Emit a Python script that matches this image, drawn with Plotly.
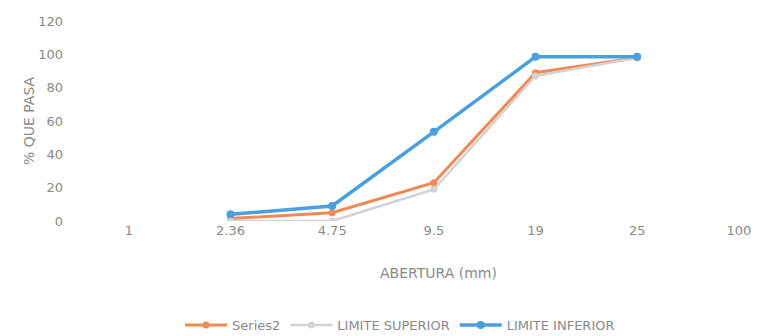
import plotly.graph_objects as go

categories = ["1", "2.36", "4.75", "9.5", "19", "25", "100"]
series2 = [None, 1.5, 5, 23, 89, 98, None]
limite_superior = [None, 0, 0, 19, 87, 98, None]
limite_inferior = [None, 4, 9, 53.5, 98.5, 98.5, None]
y_ticks = [0, 20, 40, 60, 80, 100, 120]

font_family = "DejaVu Sans, sans-serif"
txt = "#8a8a8a"

fig = go.Figure()
fig.add_trace(go.Scatter(x=categories, y=series2, name="Series2", mode="lines+markers",
                         line=dict(color="#EF8A55", width=3), marker=dict(size=7, color="#EF8A55")))
fig.add_trace(go.Scatter(x=categories, y=limite_superior, name="LIMITE SUPERIOR", mode="lines+markers",
                         line=dict(color="#D3D3D3", width=2.5), marker=dict(size=7, color="#D3D3D3")))
fig.add_trace(go.Scatter(x=categories, y=limite_inferior, name="LIMITE INFERIOR", mode="lines+markers",
                         line=dict(color="#4A9FDC", width=3.5), marker=dict(size=8, color="#4A9FDC")))

# page body adds an ~8px offset, so the figure is drawn smaller and shifted
fig.update_layout(
    width=748, height=328,
    margin=dict(l=70, r=7, t=13, b=115, autoexpand=False),
    paper_bgcolor="white", plot_bgcolor="white",
    font=dict(family=font_family, size=13, color=txt),
    showlegend=True,
    legend=dict(orientation="h", x=0.48, xanchor="center", y=-0.52, yanchor="middle",
                font=dict(size=13, color=txt), traceorder="normal", itemwidth=42),
    xaxis=dict(type="category", categoryorder="array", categoryarray=categories,
               range=[-0.5, 6.1], showgrid=False, zeroline=False, showline=False,
               ticks="", automargin=False, tickfont=dict(size=13, color=txt)),
    yaxis=dict(range=[0, 120], tickvals=y_ticks, showgrid=False, zeroline=False,
               showline=False, ticks="", ticklabelstandoff=14, automargin=False,
               tickfont=dict(size=13, color=txt)),
    annotations=[
        dict(text="ABERTURA (mm)", xref="x", yref="paper", x=3.05, y=-0.26,
             xanchor="center", yanchor="middle", showarrow=False,
             font=dict(size=14, color=txt)),
        dict(text="% QUE PASA", xref="paper", yref="paper", x=-0.073, y=0.5,
             xanchor="center", yanchor="middle", textangle=-90, showarrow=False,
             font=dict(size=14, color=txt)),
    ],
)

fig.write_html("out.html")
